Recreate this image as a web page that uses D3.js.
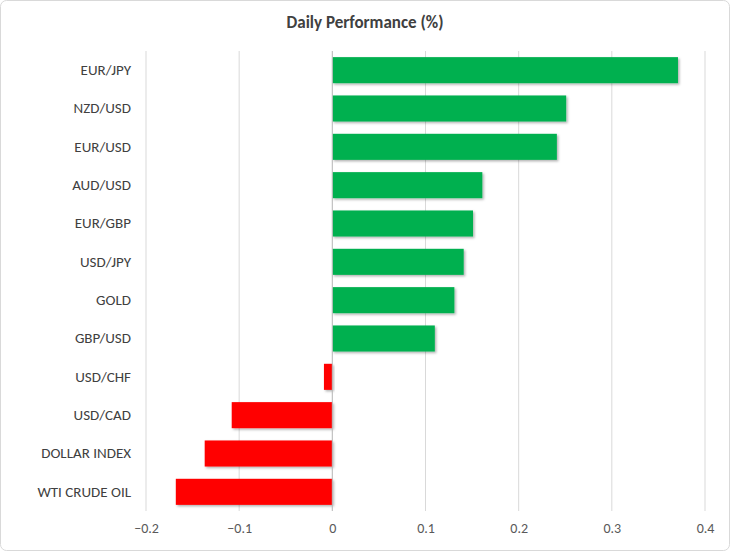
<!DOCTYPE html>
<html><head><meta charset="utf-8">
<script src="https://cdn.jsdelivr.net/npm/d3@7"></script>
<style>body{margin:0;background:#fff}</style>
</head><body>
<script>
// Chart data
var categories = ['EUR/JPY','NZD/USD','EUR/USD','AUD/USD','EUR/GBP','USD/JPY','GOLD','GBP/USD','USD/CHF','USD/CAD','DOLLAR INDEX','WTI CRUDE OIL'];
var values = [0.371, 0.251, 0.241, 0.161, 0.151, 0.141, 0.131, 0.11, -0.009, -0.108, -0.137, -0.168];
var xTicks = [-0.2, -0.1, 0, 0.1, 0.2, 0.3, 0.4];

var W = 730, H = 551, font = 'Carlito, Calibri, "Liberation Sans", sans-serif';
var svg = d3.select('body').append('svg').attr('width', W).attr('height', H);

var defs = svg.append('defs');
var f = defs.append('filter').attr('id', 'sh').attr('x', '-10%').attr('y', '-20%').attr('width', '130%').attr('height', '160%');
f.append('feDropShadow').attr('dx', 1.5).attr('dy', 1.5).attr('stdDeviation', 1.2).attr('flood-color', '#000').attr('flood-opacity', 0.3);

svg.append('rect').attr('x', 0.5).attr('y', 0.5).attr('width', W - 1).attr('height', H - 1)
  .attr('rx', 6).attr('fill', '#fff').attr('stroke', '#d9d9d9');

var x = d3.scaleLinear().domain([-0.2, 0.4]).range([146, 705]);
var y = d3.scaleBand().domain(categories).range([51, 511]).paddingInner(0.32).paddingOuter(0.16);

// gridlines
svg.append('g').selectAll('line').data(xTicks).enter().append('line')
  .attr('x1', function(d) { return x(d); }).attr('x2', function(d) { return x(d); })
  .attr('y1', 51).attr('y2', 511)
  .attr('stroke', '#d9d9d9').attr('stroke-width', 1);

// bars
svg.append('g').selectAll('rect').data(values).enter().append('rect')
  .attr('x', function(d) { return x(Math.min(0, d)); })
  .attr('width', function(d) { return Math.abs(x(d) - x(0)); })
  .attr('y', function(d, i) { return y(categories[i]); })
  .attr('height', y.bandwidth())
  .attr('fill', function(d) { return d >= 0 ? '#00B050' : '#FF0000'; })
  .attr('filter', 'url(#sh)');

// zero line
svg.append('line').attr('x1', x(0)).attr('x2', x(0)).attr('y1', 51).attr('y2', 511)
  .attr('stroke', '#bfbfbf');

// x tick labels
var xAxis = svg.append('g').attr('transform', 'translate(0,511)')
  .call(d3.axisBottom(x).tickValues(xTicks).tickSize(0).tickPadding(12).tickFormat(function(d) { return d3.format('')(+d.toFixed(1)); }));
xAxis.select('.domain').remove();
xAxis.selectAll('text').style('font-family', font).style('font-size', '14px').attr('fill', '#595959');

// category labels
var yAxis = svg.append('g').attr('transform', 'translate(131,0)')
  .call(d3.axisLeft(y).tickSize(0).tickPadding(0));
yAxis.select('.domain').remove();
yAxis.selectAll('text').style('font-family', font).style('font-size', '15px').attr('fill', '#404040');

// title
svg.append('text').attr('x', 365).attr('y', 28).attr('text-anchor', 'middle')
  .style('font-family', font).style('font-size', '17px').style('font-weight', 'bold')
  .attr('fill', '#404040').text('Daily Performance  (%)');
</script>
</body></html>
